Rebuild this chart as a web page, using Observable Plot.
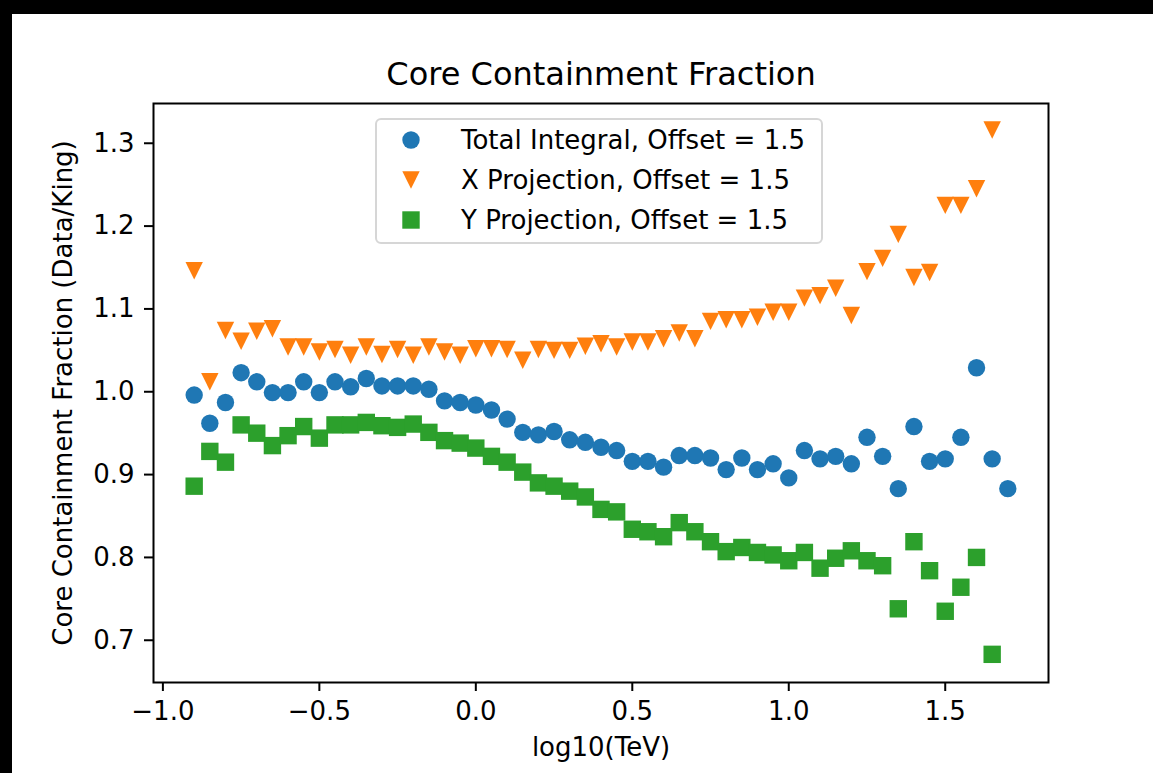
<!DOCTYPE html>
<html>
<head>
<meta charset="utf-8">
<script src="https://cdn.jsdelivr.net/npm/d3@7"></script>
<script src="https://cdn.jsdelivr.net/npm/@observablehq/plot@0.6"></script>
<style>
  html, body { margin: 0; padding: 0; background: #000; width: 1153px; height: 773px; overflow: hidden; }
  #sheet { position: absolute; left: 12px; top: 14px; width: 1141px; height: 759px; background: #fff; }
  #legend {
    position: absolute; left: 363px; top: 104px; width: 448px; height: 126px;
    box-sizing: border-box; border: 2px solid #d6d6d6; border-radius: 6px;
    background: rgba(255,255,255,0.8);
    font-family: "DejaVu Sans", sans-serif; font-size: 26px; color: #000;
  }
  .row { position: absolute; left: 0; height: 40px; width: 100%; }
  .row svg { position: absolute; left: 24px; top: 10px; }
  .row span { position: absolute; left: 84px; top: 0; line-height: 40px; white-space: nowrap; }
</style>
</head>
<body>
<div id="sheet"></div>
<script>
// ---- data ----
const energy = [-0.9, -0.85, -0.8, -0.75, -0.7, -0.65, -0.6, -0.55, -0.5, -0.45, -0.4, -0.35, -0.3, -0.25, -0.2, -0.15, -0.1, -0.05,
  0.0, 0.05, 0.1, 0.15, 0.2, 0.25, 0.3, 0.35, 0.4, 0.45, 0.5, 0.55, 0.6, 0.65, 0.7, 0.75, 0.8, 0.85, 0.9, 0.95,
  1.0, 1.05, 1.1, 1.15, 1.2, 1.25, 1.3, 1.35, 1.4, 1.45, 1.5, 1.55, 1.6, 1.65, 1.7];

const totalIntegral = [0.996, 0.962, 0.987, 1.023, 1.012, 0.999, 0.999, 1.012, 0.999, 1.012, 1.006, 1.016, 1.007, 1.007, 1.007, 1.003, 0.989, 0.987,
  0.984, 0.978, 0.967, 0.951, 0.948, 0.952, 0.942, 0.939, 0.933, 0.929, 0.916, 0.916, 0.909, 0.923, 0.923, 0.920, 0.906, 0.920, 0.906, 0.913,
  0.896, 0.929, 0.919, 0.922, 0.913, 0.945, 0.922, 0.883, 0.958, 0.916, 0.919, 0.945, 1.029, 0.919, 0.883];

const xProjection = [1.146, 1.012, 1.074, 1.061, 1.073, 1.076, 1.054, 1.054, 1.048, 1.051, 1.044, 1.054, 1.045, 1.051, 1.044, 1.054, 1.048, 1.044,
  1.052, 1.052, 1.051, 1.038, 1.051, 1.050, 1.050, 1.055, 1.058, 1.054, 1.060, 1.060, 1.064, 1.071, 1.064, 1.085, 1.087, 1.087, 1.090, 1.096,
  1.096, 1.113, 1.116, 1.125, 1.092, 1.145, 1.161, 1.190, 1.138, 1.144, 1.225, 1.225, 1.245, 1.316];

const yProjection = [0.886, 0.928, 0.915, 0.960, 0.950, 0.935, 0.947, 0.958, 0.944, 0.960, 0.960, 0.963, 0.959, 0.957, 0.961, 0.951, 0.941, 0.938,
  0.932, 0.922, 0.915, 0.903, 0.890, 0.886, 0.880, 0.873, 0.858, 0.855, 0.834, 0.831, 0.825, 0.842, 0.831, 0.819, 0.807, 0.812, 0.806, 0.803,
  0.796, 0.806, 0.787, 0.799, 0.808, 0.796, 0.790, 0.738, 0.819, 0.784, 0.735, 0.764, 0.800, 0.683];

const seriesNames = ["Total Integral, Offset = 1.5", "X Projection, Offset = 1.5", "Y Projection, Offset = 1.5"];
const seriesColors = ["#1f77b4", "#ff7f0e", "#2ca02c"];
const xTicks = [-1.0, -0.5, 0.0, 0.5, 1.0, 1.5];
const yTicks = [0.7, 0.8, 0.9, 1.0, 1.1, 1.2, 1.3];
const titleText = "Core Containment Fraction";
const xLabel = "log10(TeV)";
const yLabel = "Core Containment Fraction (Data/King)";

// ---- build tables ----
const totalData = totalIntegral.map((v, i) => ({x: energy[i], y: v}));
const xData = xProjection.map((v, i) => ({x: energy[i], y: v}));
const yData = yProjection.map((v, i) => ({x: energy[i], y: v}));

// custom marker shapes (matplotlib-like)
const squareSym = {draw(ctx, size) { const s = Math.sqrt(size / Math.PI); ctx.rect(-s, -s, 2 * s, 2 * s); }};
const triDownSym = {draw(ctx, size) { const s = Math.sqrt(size / Math.PI); ctx.moveTo(0, s); ctx.lineTo(-s, -s); ctx.lineTo(s, -s); ctx.closePath(); }};

const R = 8.7;
const chart = Plot.plot({
  width: 1141,
  height: 759,
  marginLeft: 141,
  marginRight: 105,
  marginTop: 89,
  marginBottom: 91,
  style: {fontFamily: "DejaVu Sans, sans-serif", fontSize: "26px", background: "#fff", color: "#000"},
  x: {domain: [-1.03, 1.83]},
  y: {domain: [0.649, 1.348]},
  marks: [
    Plot.dot(totalData, {x: "x", y: "y", r: R, symbol: "circle", fill: seriesColors[0], stroke: "none"}),
    Plot.dot(xData, {x: "x", y: "y", r: R, symbol: triDownSym, fill: seriesColors[1], stroke: "none"}),
    Plot.dot(yData, {x: "x", y: "y", r: R, symbol: squareSym, fill: seriesColors[2], stroke: "none"}),
    Plot.frame({stroke: "#000", strokeWidth: 2}),
    Plot.axisX({ticks: xTicks, tickFormat: d3.format(".1f"), tickSize: 9, tickPadding: 10, strokeWidth: 2, label: null, fontSize: 26}),
    Plot.axisY({ticks: yTicks, tickFormat: d3.format(".1f"), tickSize: 9, tickPadding: 10, strokeWidth: 2, label: null, fontSize: 26}),
    Plot.text([titleText], {frameAnchor: "top", dy: -29, fontSize: 32, fill: "#000", textAnchor: "middle", lineAnchor: "middle"}),
    Plot.text([xLabel], {frameAnchor: "bottom", dy: 65, fontSize: 26, fill: "#000", textAnchor: "middle", lineAnchor: "middle"}),
    Plot.text([yLabel], {frameAnchor: "left", dx: -90, rotate: -90, fontSize: 26, fill: "#000", textAnchor: "middle", lineAnchor: "middle"})
  ]
});
const sheet = document.getElementById("sheet");
sheet.appendChild(chart);

// ---- legend ----
const shapes = [
  c => `<circle cx="10" cy="10" r="${R}" fill="${c}"/>`,
  c => `<path d="M10,${10 + R}L${10 - R},${10 - R}L${10 + R},${10 - R}Z" fill="${c}"/>`,
  c => `<rect x="${10 - R}" y="${10 - R}" width="${2 * R}" height="${2 * R}" fill="${c}"/>`
];
const legend = document.createElement("div");
legend.id = "legend";
seriesNames.forEach((name, i) => {
  const row = document.createElement("div");
  row.className = "row";
  row.style.top = (i * 40) + "px";
  row.innerHTML = `<svg width="20" height="20" viewBox="0 0 20 20">${shapes[i](seriesColors[i])}</svg><span>${name}</span>`;
  legend.appendChild(row);
});
sheet.appendChild(legend);
</script>
</body>
</html>
